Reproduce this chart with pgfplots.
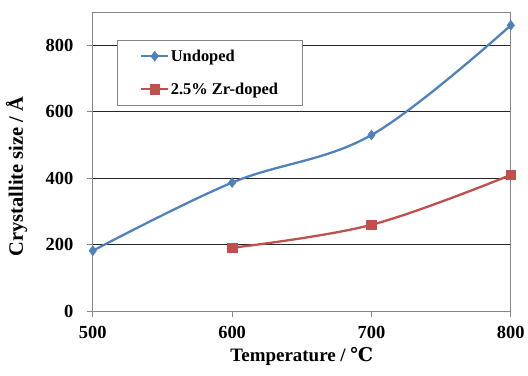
\documentclass[border=0pt]{standalone}
\usepackage{fontspec}
\setmainfont{Liberation Serif}
\newfontfamily\dejavu{DejaVu Serif}
\usepackage{pgfplots}
\pgfplotsset{compat=1.18}
\definecolor{xblue}{HTML}{4F81BD}
\definecolor{xred}{HTML}{C0504D}
\definecolor{frame}{HTML}{868686}
\begin{document}
\begin{tikzpicture}
\begin{axis}[
  scale only axis,
  width=419pt, height=300pt,
  xmin=500, xmax=800, ymin=0, ymax=900,
  xtick={500,600,700,800},
  ytick={0,200,400,600,800},
  tick pos=left,
  ymajorgrids, major grid style={black!85, line width=0.6pt},
  axis line style={frame, line width=0.8pt},
  tick style={frame, line width=0.8pt},
  tick align=outside,
  major tick length=6pt,
  /pgf/number format/assume math mode=true,
  ticklabel style={font=\fontsize{18.5}{20}\selectfont\bfseries},
  xticklabel style={yshift=-5pt},
  yticklabel style={xshift=-10pt},
  xlabel={Temperature / {\dejavu\bfseries ℃}},
  ylabel={Crystallite size / Å},
  xlabel style={font=\fontsize{19}{21}\selectfont\bfseries,
    at={(axis description cs:0.5,-0.167)}, anchor=base},
  ylabel style={font=\fontsize{20.5}{22}\selectfont\bfseries,
    at={(axis description cs:-0.167,0.45)}, anchor=base, rotate=0},
  legend style={at={(0.0573,0.9067)}, anchor=north west, draw=frame, line width=0.8pt,
    font=\fontsize{16.5}{18}\selectfont\bfseries, inner xsep=23pt, inner ysep=8pt,
    row sep=17pt, nodes={inner sep=1.5pt}, cells={anchor=west}},
  legend cell align=left,
  legend image code/.code={\draw[mark repeat=2,mark phase=2,#1] plot coordinates {(0pt,0pt) (13.5pt,0pt) (27pt,0pt)};},
]
\addplot[xblue, line width=2.3pt, smooth, tension=0.6, mark=diamond*, mark size=5pt,
  mark options={fill=xblue, draw=xblue, line width=0.5pt}]
  coordinates {(500,182) (600,387) (700,530) (800,860)};
\addlegendentry{Undoped}
\addplot[xred, line width=2.3pt, smooth, tension=0.6, mark=square*, mark size=4.8pt,
  mark options={fill=xred, draw=xred, line width=0.5pt}]
  coordinates {(600,191) (700,260) (800,410)};
\addlegendentry{2.5\% Zr-doped}
\end{axis}
\path (current axis.south west) ++(-93pt,-64pt);
\path (current axis.north east) ++(16pt,12pt);
\end{tikzpicture}
\end{document}
